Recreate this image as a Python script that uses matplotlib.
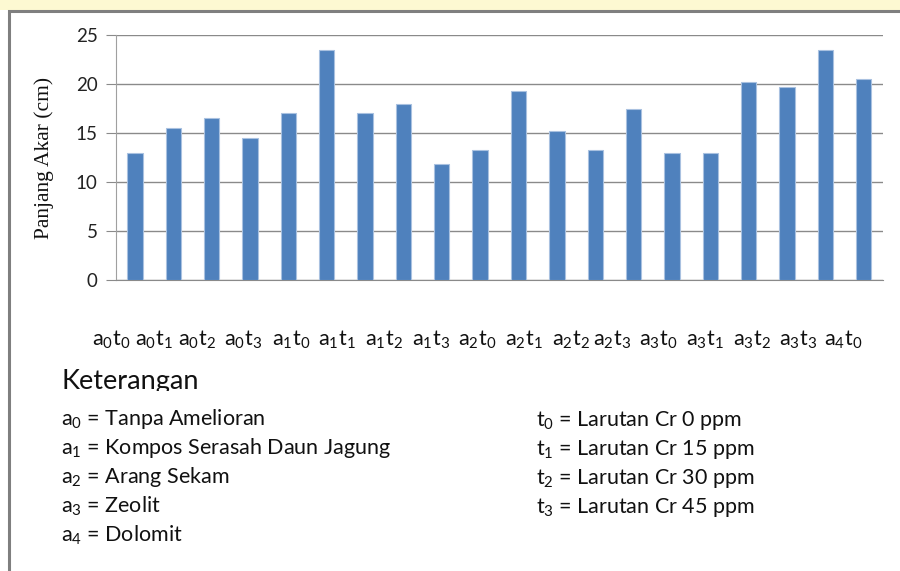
import matplotlib
matplotlib.use("Agg")
import matplotlib.pyplot as plt
from matplotlib.patches import Rectangle

# ---- data ----
categories = ["a0t0", "a0t1", "a0t2", "a0t3", "a1t0", "a1t1", "a1t2", "a1t3",
              "a2t0", "a2t1", "a2t2", "a2t3", "a3t0", "a3t1", "a3t2", "a3t3",
              "a4t0", "a4t1", "a4t2", "a4t3"]
panjang_akar = [13.0, 15.5, 16.5, 14.5, 17.0, 23.5, 17.0, 18.0, 11.8, 13.3,
                19.3, 15.2, 13.3, 17.5, 13.0, 13.0, 20.2, 19.7, 23.5, 20.5]
yticks = [0, 5, 10, 15, 20, 25]
row_labels = ["a0t0", "a0t1", "a0t2", "a0t3", "a1t0", "a1t1", "a1t2", "a1t3",
              "a2t0", "a2t1", "a2t2", "a2t3", "a3t0", "a3t1", "a3t2", "a3t3", "a4t0"]
ket_a = ["a0 = Tanpa Amelioran", "a1 = Kompos Serasah Daun Jagung", "a2 = Arang Sekam",
         "a3 = Zeolit", "a4 = Dolomit"]
ket_t = ["t0 = Larutan Cr 0 ppm", "t1 = Larutan Cr 15 ppm", "t2 = Larutan Cr 30 ppm",
         "t3 = Larutan Cr 45 ppm"]

plt.rcParams["font.family"] = ["Lato", "DejaVu Sans"]
plt.rcParams["mathtext.fontset"] = "custom"
plt.rcParams["mathtext.rm"] = "Lato"
plt.rcParams["mathtext.it"] = "Lato"
plt.rcParams["mathtext.default"] = "regular"

W, H = 900, 571
fig = plt.figure(figsize=(W / 100, H / 100), dpi=100)
fig.patch.set_facecolor("white")

def fx(px):
    return px / W

def fy(py):
    return 1 - py / H

# top pale strip + outer box (behind axes)
fig.patches.append(Rectangle((0, fy(10)), 1, 10 / H, transform=fig.transFigure,
                             facecolor="#fdf9d2", edgecolor="none", zorder=-5))
fig.patches.append(Rectangle((fx(9), fy(H + 20)), 1.2, (H + 20 - 11) / H,
                             transform=fig.transFigure, facecolor="white",
                             edgecolor="#7f7f7f", linewidth=2.2, zorder=-4))

ax_l, ax_r, ax_t, ax_b = 115.7, 883, 35, 280
ax = fig.add_axes([fx(ax_l), fy(ax_b), (ax_r - ax_l) / W, (ax_b - ax_t) / H])
ax.set_zorder(2)
ax.set_facecolor("none")
x = list(range(len(categories)))
ax.bar(x, panjang_akar, width=0.40, color="#4f81bd", edgecolor="#a9c1e0",
       linewidth=0.8, zorder=3)
ax.set_xlim(-0.5, len(categories) - 0.5)
ax.set_ylim(0, 25)
ax.set_yticks(yticks)
ax.set_yticklabels([str(v) for v in yticks], fontsize=13.5, color="#222222")
ax.set_xticks([])
ax.grid(axis="y", color="#8a8a8a", linewidth=1.0, zorder=1)
ax.set_axisbelow(True)
for s in ["top", "right"]:
    ax.spines[s].set_visible(False)
ax.spines["left"].set_color("#a0a0a0")
ax.spines["bottom"].set_color("#8a8a8a")
ax.tick_params(axis="y", length=7, color="#8a8a8a", pad=6)
ax.set_ylabel("Panjang Akar (cm)", family="Liberation Serif", fontsize=15.5,
              color="#111111")
ax.yaxis.set_label_coords((54 - ax_l) / (ax_r - ax_l), 0.5)

def sub(s):
    out = ""
    for ch in s:
        if ch.isdigit():
            out += "$_" + ch + "$"
        else:
            out += ch
    return out

row_x = [91.7, 135, 177.7, 224.3, 271.7, 318.3, 365, 411.7, 458.3, 505, 551.7,
         592.7, 639.3, 685.7, 732.7, 779.3, 824.3]
for lab, px in zip(row_labels, row_x):
    fig.text(fx(px), fy(340), sub(lab), fontsize=15.5, ha="left", va="center",
             color="#111111")

t = fig.text(fx(62), fy(382), "Keterangan", fontsize=19.5, ha="left", va="center",
             color="#111111")
t.set_clip_path(Rectangle((0, fy(391)), 1, 1, transform=fig.transFigure))

def subkey(s):
    head, rest = s.split(" ", 1)
    return sub(head) + " " + rest

for i, s in enumerate(ket_a):
    fig.text(fx(61), fy(419 + i * 29.2), subkey(s), fontsize=15.5, ha="left",
             va="center", color="#111111")
for i, s in enumerate(ket_t):
    fig.text(fx(536), fy(420 + i * 29.2), subkey(s), fontsize=15.5, ha="left",
             va="center", color="#111111")

fig.savefig("out.png", dpi=100, facecolor=fig.get_facecolor())
